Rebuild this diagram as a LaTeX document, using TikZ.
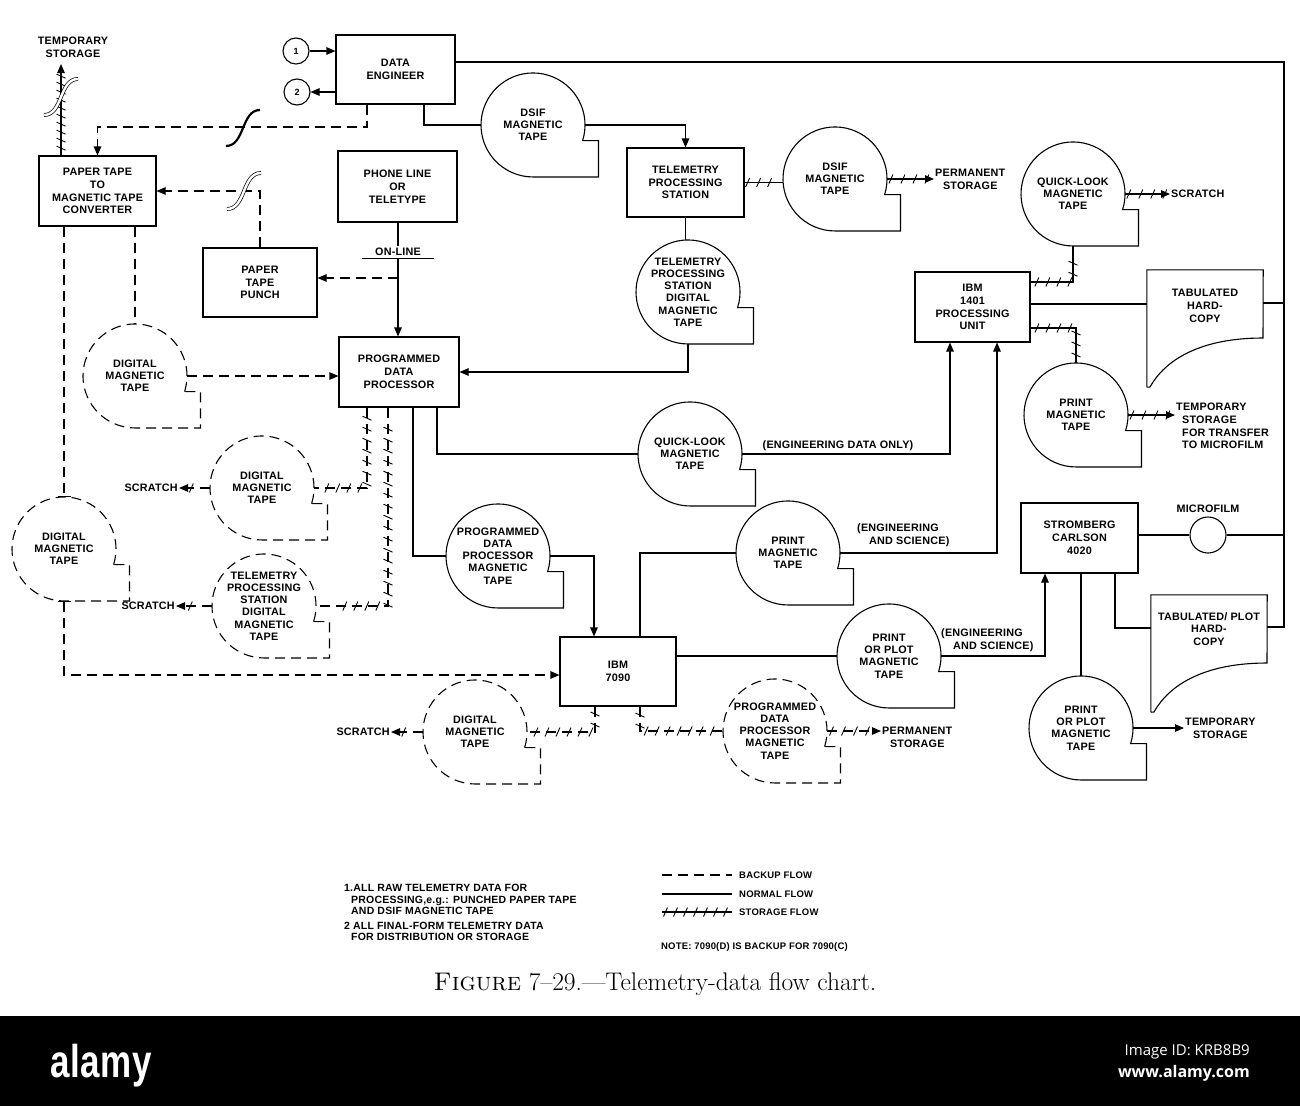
\documentclass[tikz,border=0pt]{standalone}
\usepackage{fontspec}
\newfontfamily\lab[LetterSpace=2]{Liberation Sans}
\newfontfamily\osans{Open Sans}
\usetikzlibrary{arrows.meta,decorations.markings}
\tikzset{
 txt/.style={font=\lab\bfseries\fontsize{10.8}{12.8}\selectfont, align=center, inner sep=1pt},
 lgd/.style={font=\lab\bfseries\fontsize{9.5}{11}\selectfont, inner sep=1pt},
 box/.style={draw, line width=1.1pt, rectangle, inner sep=0pt},
 ln/.style={line width=1.1pt},
 backup/.style={line width=1.1pt, dash pattern=on 10pt off 6pt},
 arr/.style={-{Triangle[length=9pt,width=7.5pt]}},
 tk/.style={solid,line width=0.9pt,arrows=-},
 ticks/.style={postaction={decorate,decoration={markings,mark=between positions 0.08 and 0.92 step #1 with {\draw[tk] (-2pt,-4.5pt)--(2pt,4.5pt);}}}},
 ticks/.default=11pt,
 tickone/.style={postaction={decorate,decoration={markings,mark=at position 0.6 with {\draw[tk] (-2pt,-4.5pt)--(2pt,4.5pt);}}}},
}
\newcommand\mytape[4]{%
 \node[circle, minimum size=104pt, inner sep=0pt] (#1) at (#2) {};
 \draw[#3] ([shift={(49.6,15.6)}]#1.center) arc[start angle=-17.5, end angle=270, radius=52pt] -- ++(65.5,0) -- ++(0,-36.4) -- cycle;
 \node[txt, font=\lab\bfseries\fontsize{10.8}{12.2}\selectfont] at (#1.center) {#4};
}
\newcommand\sbreak[2][line width=2.2pt]{\draw[#1, shift={(#2)}] (-17,18) .. controls (2,18) and (-2,-18) .. (17,-18);}
\begin{document}
\begin{tikzpicture}[x=1pt,y=-1pt]
\fill[white] (0,0) rectangle (1300,1106);
\useasboundingbox (0,0) rectangle (1300,1106);

% boxes
\node[box,txt,minimum width=119pt,minimum height=69pt] (DE) at (395.5,69.5) {DATA\\ENGINEER};
\node[box,txt,minimum width=117pt,minimum height=70pt] (PTC) at (97.5,191) {PAPER TAPE\\TO\\MAGNETIC TAPE\\CONVERTER};
\node[box,txt,minimum width=119pt,minimum height=71pt] (Phone) at (397.5,186.5) {PHONE LINE\\OR\\TELETYPE};
\node[box,txt,minimum width=114pt,minimum height=69pt] (Punch) at (260,282.5) {PAPER\\TAPE\\PUNCH};
\node[box,txt,minimum width=117pt,minimum height=69pt] (TPS) at (685.5,182.5) {TELEMETRY\\PROCESSING\\STATION};
\node[box,txt,minimum width=120pt,minimum height=70pt] (PDP) at (399,372) {PROGRAMMED\\DATA\\PROCESSOR};
\node[box,txt,minimum width=115pt,minimum height=70pt] (IBMa) at (972.5,307) {IBM\\1401\\PROCESSING\\UNIT};
\node[box,txt,minimum width=116pt,minimum height=69pt] (IBMb) at (618,671.5) {IBM\\7090};
\node[box,txt,minimum width=117pt,minimum height=70pt] (SC) at (1079.5,538) {STROMBERG\\CARLSON\\4020};

% circles 1 and 2
\node[circle,draw,ln,minimum size=26pt,inner sep=0pt,font=\lab\bfseries\fontsize{9}{9}\selectfont] (C1) at (296,51) {1};
\node[circle,draw,ln,minimum size=26pt,inner sep=0pt,font=\lab\bfseries\fontsize{9}{9}\selectfont] (C2) at (297,92) {2};

% hard-copy documents
\node[minimum width=116pt,minimum height=117pt,inner sep=0pt] (TabA) at (1205,328.5) {};
\draw[ln] (TabA.south west) -- (TabA.north west) -- (TabA.north east) -- (1263,338) .. controls (1200,338) and (1165,360) .. (1150,387) -- (TabA.south west);
\node[txt] at (1205,306) {TABULATED\\HARD-\\COPY};
\node[minimum width=116pt,minimum height=117pt,inner sep=0pt] (TabB) at (1209,653.5) {};
\draw[ln] (TabB.south west) -- (TabB.north west) -- (TabB.north east) -- (1267,663) .. controls (1204,663) and (1169,685) .. (1154,712) -- (TabB.south west);
\node[txt] at (1209,629) {TABULATED/ PLOT\\HARD-\\COPY};

% microfilm
\node[circle,draw,ln,minimum size=36pt,inner sep=0pt] (MF) at (1208,535) {};
\node[txt] at (1208,509) {MICROFILM};

% tapes
\mytape{dsifA}{533,125}{ln}{DSIF\\MAGNETIC\\TAPE}
\mytape{dsifB}{835,179}{ln}{DSIF\\MAGNETIC\\TAPE}
\mytape{tpsT}{688,292}{ln}{TELEMETRY\\PROCESSING\\STATION\\DIGITAL\\MAGNETIC\\TAPE}
\mytape{dmtA}{135,376}{backup}{DIGITAL\\MAGNETIC\\TAPE}
\mytape{dmtB}{64,549}{backup}{DIGITAL\\MAGNETIC\\TAPE}
\mytape{dmtC}{262,488}{backup}{DIGITAL\\MAGNETIC\\TAPE}
\mytape{tpsdT}{264,606}{backup}{TELEMETRY\\PROCESSING\\STATION\\DIGITAL\\MAGNETIC\\TAPE}
\mytape{qlA}{690,454}{ln}{QUICK-LOOK\\MAGNETIC\\TAPE}
\mytape{pdpT}{498,556}{ln}{PROGRAMMED\\DATA\\PROCESSOR\\MAGNETIC\\TAPE}
\mytape{printA}{788,553}{ln}{PRINT\\MAGNETIC\\TAPE}
\mytape{pplotA}{889,656}{ln}{PRINT\\OR PLOT\\MAGNETIC\\TAPE}
\mytape{qlB}{1073,194}{ln}{QUICK-LOOK\\MAGNETIC\\TAPE}
\mytape{printB}{1076,415}{ln}{PRINT\\MAGNETIC\\TAPE}
\mytape{pplotB}{1081,728}{ln}{PRINT\\OR PLOT\\MAGNETIC\\TAPE}
\mytape{dmtD}{475,732}{backup}{DIGITAL\\MAGNETIC\\TAPE}
\mytape{pdpTB}{775,731}{backup}{PROGRAMMED\\DATA\\PROCESSOR\\MAGNETIC\\TAPE}

% text labels
\node[txt] (tempA) at (73,47) {TEMPORARY\\STORAGE};
\node[txt,anchor=west] (permA) at (934,179) {PERMANENT\\STORAGE};
\node[txt,anchor=west] (scrC) at (1170,194) {SCRATCH};
\node[txt,anchor=west,align=left] (tempB) at (1175,426) {TEMPORARY\\\hspace*{6pt}STORAGE\\\hspace*{6pt}FOR TRANSFER\\\hspace*{6pt}TO MICROFILM};
\node[txt,anchor=west] (tempC) at (1184,728) {TEMPORARY\\STORAGE};
\node[txt,anchor=west] (permB) at (881,737) {PERMANENT\\STORAGE};
\node[txt,anchor=east] (scrA) at (179,488) {SCRATCH};
\node[txt,anchor=east] (scrB) at (176,606) {SCRATCH};
\node[txt,anchor=east] (scrD) at (391,732) {SCRATCH};
\node[txt,minimum width=71pt,minimum height=12pt,inner sep=0pt] (OL) at (398,252) {ON-LINE};
\node[txt] at (838,446) {(ENGINEERING DATA ONLY)};
\node[txt,anchor=west,align=left] at (856,535) {(ENGINEERING\\\hspace*{12pt}AND SCIENCE)};
\node[txt,anchor=west,align=left] at (940,640) {(ENGINEERING\\\hspace*{12pt}AND SCIENCE)};

% connectors
\coordinate (sp1) at (1284,62);
\coordinate (sp2) at (1284,627);
\coordinate (sp3) at (1284,303);
\coordinate (sp4) at (1284,535);
\draw[ln] (DE.east |- sp1) -- (sp1) -- (sp2) -- (TabB.east |- sp2);
\draw[ln] (TabA.east |- sp3) -- (sp3);
\draw[ln] (MF.east) -- (sp4);
\draw[ln] (SC.east |- MF) -- (MF.west);

\draw[ln,arr] (C1) -- (DE.west |- C1);
\draw[ln,arr] (DE.west |- C2) -- (C2);
\coordinate (d1) at (424,0);
\draw[ln] (DE.south -| d1) |- (dsifA.west);
\draw[ln,arr] (dsifA.east) -| (TPS.north);
\coordinate (d2) at (367,127);
\draw[backup,arr] (DE.south -| d2) -- (d2) -| (PTC.north);
\sbreak{243,128}
\draw[ln,ticks] (TPS.east) -- (TPS.east -| dsifB.west);
\draw[ln,arr,ticks=12pt] (dsifB.east) -- (dsifB.east -| permA.west);
\draw[ln] (TPS.south) -- (TPS.south |- tpsT.north);
\draw[ln,arr] (tpsT.south) |- (PDP.east);
\draw[ln] (Phone.south -| OL) -- (OL.north);
\draw[ln,arr] (OL.south) -- (PDP.north -| OL.south);
\draw[line width=0.8pt] (OL.south west) -- (OL.south east);
\coordinate (j1) at (398,278);
\draw[backup,arr] (j1) -- (Punch.east |- j1);
\draw[backup,arr] (Punch.north) |- (PTC.east);
\sbreak[double,double distance=2.4pt,line width=0.7pt]{244,191}
\coordinate (t1) at (61,64);
\draw[ln,arr,ticks=8pt] (PTC.north -| t1) -- (t1);
\sbreak[double,double distance=2.4pt,line width=0.7pt]{61,97}

\draw[backup] (PTC.south -| dmtA.north) -- (dmtA.north);
\draw[backup,-{Bar[width=13pt]}] (PTC.south -| dmtB.north) -- (dmtB.north);
\coordinate (j2) at (0,675);
\draw[backup,{Bar[width=13pt]}-{Triangle[length=9pt,width=7.5pt]}] (dmtB.south) |- (IBMb.west |- j2);
\draw[backup,arr] (dmtA.east) -- (PDP.west |- dmtA.east);
\coordinate (j3) at (367,0);
\draw[backup,ticks] (PDP.south -| j3) |- (dmtC.east);
\coordinate (j4) at (388,0);
\draw[backup,ticks] (PDP.south -| j4) |- (tpsdT.east);
\draw[backup,arr,tickone] (dmtC.west) -- (dmtC.west -| scrA.east);
\draw[backup,arr,tickone] (tpsdT.west) -- (tpsdT.west -| scrB.east);
\coordinate (j5) at (413,0);
\draw[ln] (PDP.south -| j5) |- (pdpT.west);
\coordinate (j6) at (437,0);
\draw[ln] (PDP.south -| j6) |- (qlA.west);
\coordinate (j7) at (594,0);
\draw[ln,arr] (pdpT.east) -| (IBMb.north -| j7);
\coordinate (j8) at (950,0);
\draw[ln,arr] (qlA.east) -| (IBMa.south -| j8);
\coordinate (j9) at (640,0);
\draw[ln] (IBMb.north -| j9) |- (printA.west);
\coordinate (j10) at (997,0);
\draw[ln,arr] (printA.east) -| (IBMa.south -| j10);
\draw[ln] (IBMb.east |- pplotA.west) -- (pplotA.west);
\coordinate (j11) at (1045,0);
\draw[ln,arr] (pplotA.east) -| (SC.south -| j11);
\coordinate (j12) at (0,282);
\draw[ln,ticks] (IBMa.east |- j12) -| (qlB.south);
\draw[ln,arr,ticks=12pt] (qlB.east) -- (qlB.east -| scrC.west);
\coordinate (j13) at (0,304);
\draw[ln] (IBMa.east |- j13) -- (TabA.west |- j13);
\coordinate (j14) at (0,328);
\draw[ln,ticks] (IBMa.east |- j14) -| (printB.north);
\draw[ln,arr,ticks=12pt] (printB.east) -- (printB.east -| tempB.west);
\draw[ln] (SC.south -| pplotB.north) -- (pplotB.north);
\coordinate (j15) at (1115,628);
\draw[ln] (SC.south -| j15) |- (TabB.west |- j15);
\draw[ln,arr] (pplotB.east) -- (pplotB.east -| tempC.west);
\coordinate (j16) at (595,0);
\draw[backup,ticks] (IBMb.south -| j16) |- (dmtD.east);
\draw[backup,ticks] (IBMb.south -| j9) |- (pdpTB.west);
\draw[backup,arr,tickone] (dmtD.west) -- (dmtD.west -| scrD.east);
\draw[backup,arr,ticks=12pt] (pdpTB.east) -- (pdpTB.east -| permB.west);

% notes and legend
\node[lgd,font=\lab\bfseries\fontsize{10.5}{11.5}\selectfont,anchor=north west,align=left] at (343,883) {1.ALL RAW TELEMETRY DATA FOR\\\hspace*{7pt}PROCESSING,e.g.: PUNCHED PAPER TAPE\\\hspace*{7pt}AND DSIF MAGNETIC TAPE\\[3pt]2 ALL FINAL-FORM TELEMETRY DATA\\\hspace*{7pt}FOR DISTRIBUTION OR STORAGE};
\coordinate (L1a) at (662,875); \coordinate (L1b) at (732,875);
\coordinate (L2a) at (662,894); \coordinate (L2b) at (732,894);
\coordinate (L3a) at (662,912); \coordinate (L3b) at (732,912);
\draw[backup] (L1a) -- (L1b);
\draw[ln] (L2a) -- (L2b);
\draw[ln,postaction={decorate,decoration={markings,mark=between positions 0.05 and 0.95 step 10pt with {\draw[tk] (-2pt,-4.5pt)--(2pt,4.5pt);}}}] (L3a) -- (L3b);
\node[lgd,anchor=west] at (738,875) {BACKUP FLOW};
\node[lgd,anchor=west] at (738,894) {NORMAL FLOW};
\node[lgd,anchor=west] at (738,912) {STORAGE FLOW};
\node[lgd,anchor=west] at (660,947) {NOTE: 7090(D) IS BACKUP FOR 7090(C)};

% caption
\node[font=\fontsize{25.5}{30}\selectfont] at (655,984) {\textsc{Figure} 7--29.---Telemetry-data flow chart.};

% watermark band
\fill[black] (0,1016) rectangle (1300,1106);
\node[text=white,font=\lab\bfseries\fontsize{46}{46}\selectfont,xscale=0.76,anchor=base west,inner sep=0pt] at (50,1077) {alamy};
\node[text=white,font=\osans\fontsize{15}{15}\selectfont,anchor=base east,inner sep=0pt] at (1250,1055) {Image ID: KRB8B9};
\node[text=white,font=\osans\bfseries\fontsize{16}{16}\selectfont,anchor=base east,inner sep=0pt] at (1250,1077) {www.alamy.com};
\end{tikzpicture}
\end{document}
